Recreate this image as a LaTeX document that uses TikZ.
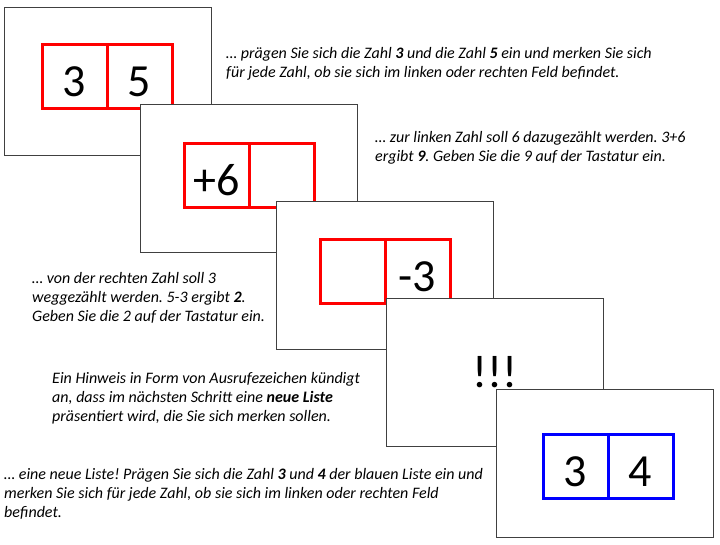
\documentclass[tikz,border=0pt]{standalone}
\usepackage{fontspec}
\setmainfont{Carlito}
\usetikzlibrary{positioning}
\frenchspacing

\begin{document}
\begin{tikzpicture}[x=1pt, y=-1pt,
    screen/.style={draw=black!75, line width=1pt, fill=white, minimum width=217pt, minimum height=148pt, inner sep=0pt, font=\fontsize{46}{50}\selectfont},
    cell/.style={draw=#1, line width=3pt, minimum width=65pt, minimum height=64pt, inner sep=0pt, outer sep=0pt, text height=44pt, text depth=4pt, font=\fontsize{46}{50}\selectfont},
    note/.style={align=left, anchor=west, inner sep=0pt, font=\fontsize{16}{19}\selectfont\itshape}]

\useasboundingbox (0,0) rectangle (720,544);

% first list
\node[screen, minimum width=207pt] (s1) at (107.5,81) {};
\node[cell=red] (l1) at (74.5,76) {3};
\node[cell=red, right=0pt of l1] (r1) {5};

% plus step
\node[screen] (s2) at (248.5,178) {};
\node[cell=red] (l2) at (216.5,175) {+6};
\node[cell=red, right=0pt of l2] (r2) {};

% minus step
\node[screen] (s3) at (384.5,275) {};
\node[cell=red] (l3) at (352.5,271) {};
\node[cell=red, right=0pt of l3] (r3) {-3};

% hint
\node[screen] (s4) at (494.5,372) {!!!};

% new list
\node[screen] (s5) at (604.5,463) {};
\node[cell=blue] (l5) at (575.5,466) {3};
\node[cell=blue, right=0pt of l5] (r5) {4};

\node[note] (t1) at (226,63.5) {… prägen Sie sich die Zahl \textbf{3} und die Zahl \textbf{5} ein und merken Sie sich\\für jede Zahl, ob sie sich im linken oder rechten Feld befindet.};
\node[note] (t2) at (375,148) {… zur linken Zahl soll 6 dazugezählt werden. 3+6\\ergibt \textbf{9}. Geben Sie die 9 auf der Tastatur ein.};
\node[note] (t3) at (32,298) {… von der rechten Zahl soll 3\\weggezählt werden. 5-3 ergibt \textbf{2}.\\Geben Sie die 2 auf der Tastatur ein.};
\node[note] (t4) at (52,398) {Ein Hinweis in Form von Ausrufezeichen kündigt\\an, dass im nächsten Schritt eine \textbf{neue Liste}\\präsentiert wird, die Sie sich merken sollen.};
\node[note] (t5) at (4,494) {… eine neue Liste! Prägen Sie sich die Zahl \textbf{3} und \textbf{4} der blauen Liste ein und\\merken Sie sich für jede Zahl, ob sie sich im linken oder rechten Feld\\befindet.};

\end{tikzpicture}
\end{document}
